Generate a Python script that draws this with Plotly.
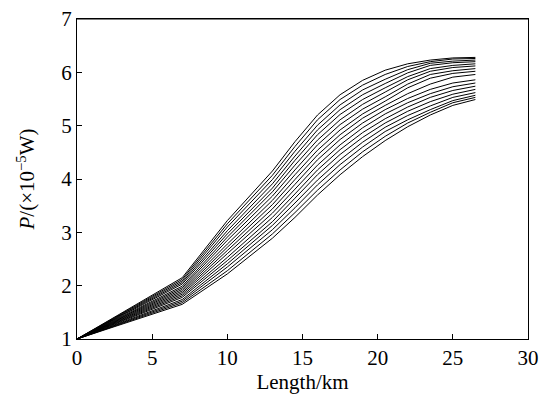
import plotly.graph_objects as go

# Length positions (km) at which each curve's power was read
LENGTH_KM = [0, 7, 10, 13, 14.5, 16, 17.5, 19, 20.5, 22, 23.5, 25, 26.5]

# Power values (x1e-5 W) of the 17 curves (lowest -> highest) at each length
P_AT_0 = [1.00] * 17
P_AT_7 = [1.65, 1.68, 1.71, 1.74, 1.78, 1.81, 1.84, 1.87, 1.90, 1.93, 1.96, 1.99, 2.03, 2.06, 2.09, 2.12, 2.15]
P_AT_10 = [2.22, 2.28, 2.35, 2.41, 2.47, 2.53, 2.60, 2.66, 2.72, 2.78, 2.85, 2.91, 2.97, 3.03, 3.10, 3.16, 3.22]
P_AT_13 = [2.89, 2.97, 3.05, 3.13, 3.20, 3.28, 3.36, 3.44, 3.52, 3.60, 3.68, 3.76, 3.83, 3.91, 3.99, 4.07, 4.15]
P_AT_14_5 = [3.28, 3.37, 3.46, 3.55, 3.64, 3.72, 3.81, 3.90, 3.99, 4.08, 4.17, 4.26, 4.35, 4.43, 4.52, 4.61, 4.70]
P_AT_16 = [3.70, 3.79, 3.89, 3.98, 4.08, 4.17, 4.26, 4.36, 4.45, 4.54, 4.64, 4.73, 4.83, 4.92, 5.01, 5.11, 5.20]
P_AT_17_5 = [4.08, 4.17, 4.27, 4.36, 4.46, 4.55, 4.64, 4.74, 4.83, 4.92, 5.02, 5.11, 5.21, 5.30, 5.39, 5.49, 5.58]
P_AT_19 = [4.42, 4.51, 4.60, 4.69, 4.78, 4.87, 4.96, 5.05, 5.14, 5.22, 5.31, 5.40, 5.49, 5.58, 5.67, 5.76, 5.85]
P_AT_20_5 = [4.72, 4.80, 4.89, 4.97, 5.05, 5.13, 5.22, 5.30, 5.38, 5.46, 5.54, 5.63, 5.71, 5.79, 5.87, 5.96, 6.04]
P_AT_22 = [4.98, 5.05, 5.11, 5.19, 5.27, 5.35, 5.43, 5.51, 5.60, 5.71, 5.78, 5.86, 5.92, 5.99, 6.05, 6.11, 6.16]
P_AT_23_5 = [5.20, 5.25, 5.30, 5.37, 5.45, 5.53, 5.60, 5.68, 5.78, 5.89, 5.96, 6.02, 6.07, 6.13, 6.17, 6.20, 6.23]
P_AT_25 = [5.38, 5.43, 5.47, 5.53, 5.59, 5.66, 5.73, 5.80, 5.91, 5.98, 6.03, 6.09, 6.13, 6.18, 6.21, 6.25, 6.27]
P_AT_26_5 = [5.49, 5.53, 5.57, 5.62, 5.68, 5.74, 5.80, 5.86, 5.96, 6.02, 6.07, 6.12, 6.16, 6.20, 6.23, 6.26, 6.28]

COLUMNS = [P_AT_0, P_AT_7, P_AT_10, P_AT_13, P_AT_14_5, P_AT_16, P_AT_17_5,
           P_AT_19, P_AT_20_5, P_AT_22, P_AT_23_5, P_AT_25, P_AT_26_5]

X_TICKS = [0, 5, 10, 15, 20, 25, 30]
Y_TICKS = [1, 2, 3, 4, 5, 6, 7]

FONT = "Liberation Serif, Times New Roman, serif"

fig = go.Figure()
for i in range(len(P_AT_0)):
    fig.add_trace(go.Scatter(
        x=LENGTH_KM,
        y=[col[i] for col in COLUMNS],
        mode="lines",
        line=dict(color="black", width=1),
        showlegend=False,
        hoverinfo="skip",
    ))

axis_common = dict(
    showline=True, linecolor="black", linewidth=1, mirror=True,
    ticks="inside", ticklen=5, tickcolor="black", tickwidth=1,
    showgrid=False, zeroline=False, automargin=False,
    ticklabeloverflow="allow",
    tickfont=dict(family=FONT, size=21, color="black"),
)

fig.update_layout(
    width=547, height=396,
    margin=dict(l=69, r=27, t=11, b=65),
    paper_bgcolor="white", plot_bgcolor="white",
    font=dict(family=FONT, size=21, color="black"),
    xaxis=dict(range=[0, 30], tickvals=X_TICKS,
               title=dict(text="Length/km", font=dict(family=FONT, size=21), standoff=4),
               **axis_common),
    yaxis=dict(range=[1, 7], tickvals=Y_TICKS,
               title=dict(text="<i>P</i>/(×10<sup>−5</sup>W)", font=dict(family=FONT, size=21), standoff=20),
               **axis_common),
    shapes=[dict(type="line", xref="paper", yref="paper", x0=0, x1=1, y0=1, y1=1,
                 line=dict(color="black", width=1), layer="above")],
)

fig.write_html("out.html", config={"displayModeBar": False})
